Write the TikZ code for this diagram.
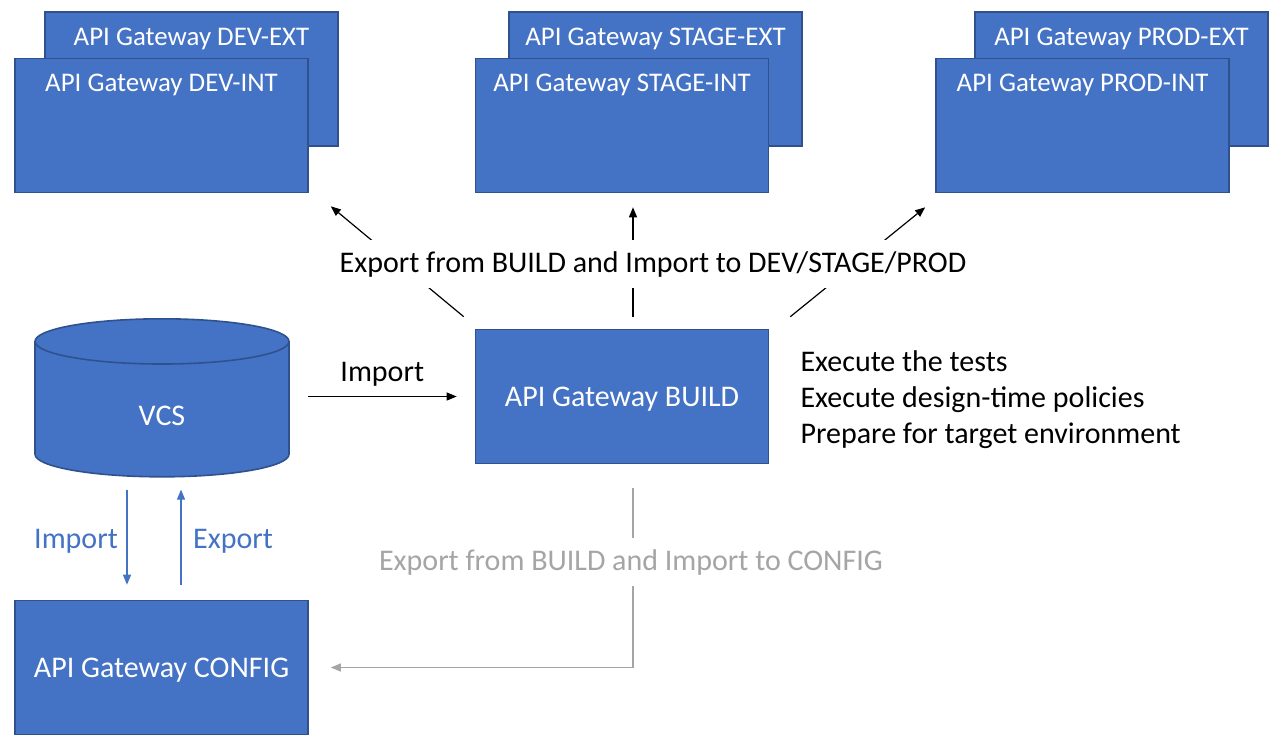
\documentclass[tikz,border=0pt]{standalone}
\usepackage{fontspec}
\setmainfont{Carlito}
\usetikzlibrary{positioning, arrows.meta, shapes.geometric, calc}
\definecolor{gwblue}{HTML}{4472C4}
\definecolor{gwedge}{HTML}{2F528F}
\definecolor{gwgray}{HTML}{A5A5A5}

\begin{document}
\begin{tikzpicture}[
    x=1pt, y=-1pt,
    envbox/.style={draw=gwedge, fill=gwblue, line width=1.6pt, text=white, font=\fontsize{26.9}{32}\selectfont, minimum width=293pt, inner ysep=0pt, text height=33pt, text depth=101pt},
    box/.style={draw=gwedge, fill=gwblue, line width=1.6pt, text=white, font=\fontsize{30}{36}\selectfont, minimum width=293pt, minimum height=134pt, text depth=0pt},
    txt/.style={font=\fontsize{30}{36}\selectfont},
    line/.style={-{Triangle[length=10pt, width=8pt]}, line width=1.2pt},
    blueline/.style={-{Triangle[length=10pt, width=8pt]}, line width=1.2pt, draw=gwblue},
    grayline/.style={-{Triangle[length=10pt, width=8pt]}, line width=1.2pt, draw=gwgray}
]
    \useasboundingbox (0,0) rectangle (1281,750);

    \node[envbox] (devext) at (191.5,79) {API Gateway DEV-EXT};
    \node[envbox] (devint) at (161.5,125.5) {API Gateway DEV-INT};
    \node[envbox] (stageext) at (655.5,79) {API Gateway STAGE-EXT};
    \node[envbox] (stageint) at (622,125.5) {API Gateway STAGE-INT};
    \node[envbox] (prodext) at (1121.5,79) {API Gateway PROD-EXT};
    \node[envbox] (prodint) at (1082.5,125.5) {API Gateway PROD-INT};

    \node[box] (build) at (622,396.5) {API Gateway BUILD};
    \node[box] (config) at (161.5,667.5) {API Gateway CONFIG};
    \node[cylinder, shape border rotate=90, aspect=0.85, draw=gwedge, fill=gwblue, line width=1.6pt, text=white, font=\fontsize{30}{36}\selectfont, text height=27pt, minimum width=254pt, minimum height=158pt, anchor=north] (vcs) at (162,318) {VCS};

    \node[txt, anchor=west, align=left] (tests) at (797,400) {Execute the tests\\Execute design-time policies\\Prepare for target environment};

    \draw[line, shorten <=18pt, shorten >=18pt] (vcs.east |- build.west) -- (build.west) node[txt, midway, yshift=22pt] (importlbl) {Import};

    \draw[line] ([xshift=-11pt,yshift=12pt]build.north west) -- ([xshift=22pt,yshift=-13pt]devint.south east);
    \draw[line] ([xshift=11pt,yshift=12pt]build.north) -- ([xshift=11pt,yshift=-14pt]stageint.south);
    \draw[line] ([xshift=21pt,yshift=12pt]build.north east) -- ([xshift=-10pt,yshift=-14pt]prodint.south west);
    \node[txt, fill=white, inner ysep=11pt] (exportlbl) at (653,264) {Export from BUILD and Import to DEV/STAGE/PROD};

    \draw[blueline, shorten <=12pt, shorten >=15pt] ([xshift=-35pt]vcs.south) -- ([xshift=-35pt]vcs.south |- config.north);
    \draw[blueline, shorten <=15pt, shorten >=12pt] ([xshift=19pt]vcs.south |- config.north) -- ([xshift=19pt]vcs.south);
    \node[txt, text=gwblue] (importcfg) at (76,541) {Import};
    \node[txt, text=gwblue] (exportcfg) at (233,541) {Export};

    \draw[grayline] ([xshift=11pt,yshift=-24pt]build.south) |- ([xshift=22pt]config.east);
    \node[txt, text=gwgray, fill=white, inner ysep=11pt] (configlbl) at (631,562) {Export from BUILD and Import to CONFIG};
\end{tikzpicture}
\end{document}
